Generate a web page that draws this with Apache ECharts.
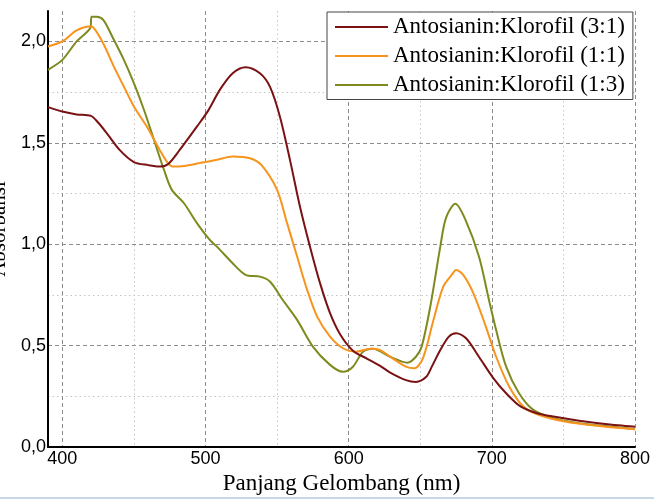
<!DOCTYPE html>
<html>
<head>
<meta charset="utf-8">
<script src="https://cdn.jsdelivr.net/npm/echarts@6/dist/echarts.min.js"></script>
<style>html,body{margin:0;padding:0;background:#fff;}#c{width:654px;height:502px;}</style>
</head>
<body>
<div id="c"></div>
<script>
const seriesNames = ['Antosianin:Klorofil (3:1)', 'Antosianin:Klorofil (1:1)', 'Antosianin:Klorofil (1:3)'];

const x31 = [390,400,410,420,425,431,440,450,460,468,474,482,494,502,510,519,528,538,545,552,559,566,573,580,587,594,603,613,622,629,640,647,654,658,664,670,675,682,691,701,710,720,731,743,761,784,800];
const y31 = [1.676,1.654,1.640,1.633,1.600,1.548,1.465,1.405,1.390,1.383,1.396,1.465,1.580,1.660,1.761,1.843,1.873,1.843,1.777,1.629,1.416,1.185,0.988,0.808,0.660,0.556,0.475,0.435,0.400,0.367,0.330,0.321,0.345,0.395,0.478,0.544,0.561,0.536,0.445,0.340,0.265,0.200,0.168,0.150,0.130,0.110,0.100];

const x11 = [390,400,410,419,421.5,428.6,436,443,450,459,468,473,477,485,496,508,519,531,539,550,557,564,571,578,587,596,605,615,622,629,640,646,652,659,666,672,675,680,687,696,703,712,722,733,752,775,800];
const y11 = [1.975,2.000,2.054,2.074,2.070,1.990,1.876,1.777,1.679,1.580,1.465,1.407,1.383,1.386,1.400,1.416,1.432,1.424,1.391,1.268,1.104,0.939,0.775,0.643,0.544,0.487,0.470,0.485,0.478,0.445,0.396,0.388,0.440,0.620,0.790,0.849,0.873,0.849,0.760,0.590,0.445,0.300,0.200,0.158,0.125,0.104,0.088];

const x13 = [390,400,410,419.5,420.5,424,428.6,436,443,450,457,464,471,476.5,485,494,503,508,519,528,538,545,554,564,575,587,596,603,610,617,629,641,647,651,657,664,668,674.5,681.6,691,698,703,710,719,729,743,761,784,800];
const y13 = [1.860,1.909,2.000,2.066,2.122,2.122,2.106,2.008,1.909,1.794,1.663,1.515,1.367,1.268,1.202,1.104,1.021,0.988,0.906,0.849,0.840,0.816,0.725,0.627,0.495,0.405,0.371,0.396,0.470,0.485,0.445,0.416,0.445,0.495,0.692,0.988,1.130,1.199,1.120,0.939,0.725,0.577,0.396,0.265,0.183,0.142,0.117,0.100,0.087];

const xMajorTicks = [400,500,600,700,800];
const xMinorTicks = [450,550,650,750];
const yMajorTicks = [0,0.5,1.0,1.5,2.0];
const yMinorTicks = [0.25,0.75,1.25,1.75];

const colors = ['#7a1214', '#f7941e', '#7f8a1e'];

function pairs(xs, ys){ return xs.map((x,i)=>[x, ys[i]]); }

const chart = echarts.init(document.getElementById('c'), null, {renderer:'canvas'});
const sans = 'Liberation Sans, Arial, sans-serif';
const serif = 'Liberation Serif, Times New Roman, serif';

const lineDefs = [[x31,y31],[x11,y11],[x13,y13]];

chart.setOption({
  animation: false,
  backgroundColor: '#fff',
  grid: {left: 48, right: 19, top: 11, bottom: 55, containLabel: false, outerBoundsMode: 'none'},
  xAxis: [{
    type: 'value', min: 390, max: 800,
    name: 'Panjang Gelombang (nm)', nameLocation: 'middle', nameGap: 25,
    nameTextStyle: {fontFamily: serif, fontSize: 23, color: '#000'},
    axisLine: {show: true, onZero: false, lineStyle: {color: '#000', width: 2}},
    axisTick: {show: false, customValues: xMajorTicks},
    axisLabel: {customValues: xMajorTicks, fontFamily: sans, fontSize: 18, color: '#000', margin: 3},
    splitLine: {show: true, lineStyle: {color: '#8c8c8c', type: [4,3], width: 1}}
  },{
    type: 'value', min: 390, max: 800, position: 'bottom',
    axisLine: {show: false}, axisTick: {show: false, customValues: xMinorTicks},
    axisLabel: {show: false, customValues: xMinorTicks},
    splitLine: {show: true, lineStyle: {color: '#c4c4c4', type: [1.5,3], width: 1}}
  }],
  yAxis: [{
    type: 'value', min: 0, max: 2.15,
    name: 'Absorbansi', nameLocation: 'middle', nameGap: 37,
    nameTextStyle: {fontFamily: serif, fontSize: 21, color: '#000'},
    axisLine: {show: true, onZero: false, lineStyle: {color: '#000', width: 2}},
    axisTick: {show: false, customValues: yMajorTicks},
    axisLabel: {customValues: yMajorTicks, fontFamily: sans, fontSize: 18, color: '#000', margin: 2,
      formatter: v => v.toFixed(1).replace('.', ',')},
    splitLine: {show: true, lineStyle: {color: '#8c8c8c', type: [4,3], width: 1}}
  },{
    type: 'value', min: 0, max: 2.15, position: 'left',
    axisLine: {show: false}, axisTick: {show: false, customValues: yMinorTicks},
    axisLabel: {show: false, customValues: yMinorTicks},
    splitLine: {show: true, lineStyle: {color: '#c4c4c4', type: [1.5,3], width: 1}}
  }],
  legend: {
    orient: 'vertical', left: 327, top: 12,
    padding: [0.5, 8, 0, 8], itemGap: 0,
    itemWidth: 53, itemHeight: 2, icon: 'rect',
    backgroundColor: '#fff', borderColor: '#444', borderWidth: 1,
    textStyle: {fontFamily: serif, fontSize: 23, color: '#000', lineHeight: 29},
    data: seriesNames
  },
  graphic: [{type: 'rect', left: 0, top: 497, shape: {width: 654, height: 2}, style: {fill: '#c9d7e8'}}],
  series: lineDefs.map((d, i) => ({
    name: seriesNames[i], type: 'line', xAxisIndex: 0, yAxisIndex: 0,
    data: pairs(d[0], d[1]), showSymbol: false, symbol: 'none',
    smooth: 0.3,
    lineStyle: {color: colors[i], width: 2}, itemStyle: {color: colors[i]},
    z: 3 + (2 - i)
  }))
});
</script>
</body>
</html>
